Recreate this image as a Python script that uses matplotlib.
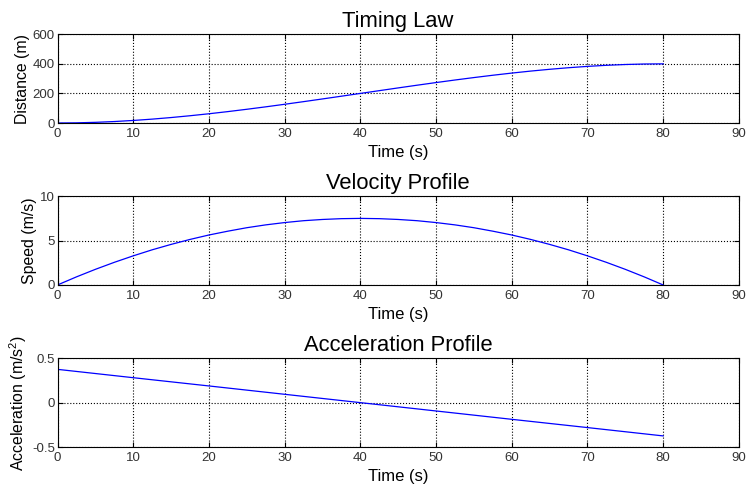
import matplotlib.pyplot as plt
import numpy as np

# valores (tempo em s)
t = [0, 2.5, 5, 7.5, 10, 12.5, 15, 17.5, 20, 22.5, 25, 27.5, 30, 32.5, 35, 37.5, 40,
     42.5, 45, 47.5, 50, 52.5, 55, 57.5, 60, 62.5, 65, 67.5, 70, 72.5, 75, 77.5, 80]
distancia = [0, 1.15, 4.5, 9.9, 17.2, 26.2, 36.9, 49.1, 62.5, 77.1, 92.8, 109.3,
             126.6, 144.4, 162.7, 181.3, 200, 218.7, 237.3, 255.6, 273.4, 290.7,
             307.2, 322.9, 337.5, 351.0, 363.1, 373.8, 382.8, 390.1, 395.5, 398.9, 400]
velocidade = [0, 0.91, 1.76, 2.55, 3.28, 3.96, 4.57, 5.13, 5.63, 6.06, 6.45, 6.77,
              7.03, 7.24, 7.38, 7.47, 7.5, 7.47, 7.38, 7.24, 7.03, 6.77, 6.45, 6.06,
              5.63, 5.13, 4.57, 3.96, 3.28, 2.55, 1.76, 0.91, 0]
t_acel = [0, 10, 20, 30, 40, 50, 60, 70, 80]
aceleracao = [0.375, 0.281, 0.188, 0.094, 0, -0.094, -0.188, -0.281, -0.375]

xticks = np.arange(0, 91, 10)

plt.rcParams['font.family'] = ['Liberation Sans', 'DejaVu Sans']
plt.rcParams['mathtext.fontset'] = 'custom'
plt.rcParams['mathtext.rm'] = 'Liberation Sans'

fig = plt.figure(figsize=(7.52, 4.93), dpi=100)

# (x, dados, titulo, ylabel, ylim, yticks, posicao)
paineis = [
    (t, distancia, 'Timing Law', 'Distance (m)', (0, 600), [0, 200, 400, 600], 0.7505),
    (t, velocidade, 'Velocity Profile', 'Speed (m/s)', (0, 10), [0, 5, 10], 0.422),
    (t_acel, aceleracao, 'Acceleration Profile', 'Acceleration (m/s$^2$)', (-0.5, 0.5), [-0.5, 0, 0.5], 0.0933),
]

for x, dados, titulo, ylab, ylim, yt, bottom in paineis:
    ax = fig.add_axes([0.0765, bottom, 0.906, 0.18])
    ax.plot(x, dados, color='blue', linewidth=0.9)
    ax.set_xlim(0, 90)
    ax.set_ylim(*ylim)
    ax.set_xticks(xticks)
    ax.set_yticks(yt)
    ax.set_yticklabels([('%g' % v) for v in yt])
    ax.grid(True, color='black', linestyle=':', linewidth=0.8)
    ax.tick_params(direction='in', top=True, right=True, labelsize=9.5,
                   labelcolor='#333333', length=3.5)
    ax.tick_params(axis='x', pad=3.5)
    ax.tick_params(axis='y', pad=2)
    for s in ax.spines.values():
        s.set_linewidth(0.8)
    ax.set_title(titulo, fontsize=15.8, pad=5)
    ax.set_xlabel('Time (s)', fontsize=12, labelpad=3.5)
    ax.set_ylabel(ylab, fontsize=11.4, labelpad=2)

fig.savefig('out.png', dpi=100)
